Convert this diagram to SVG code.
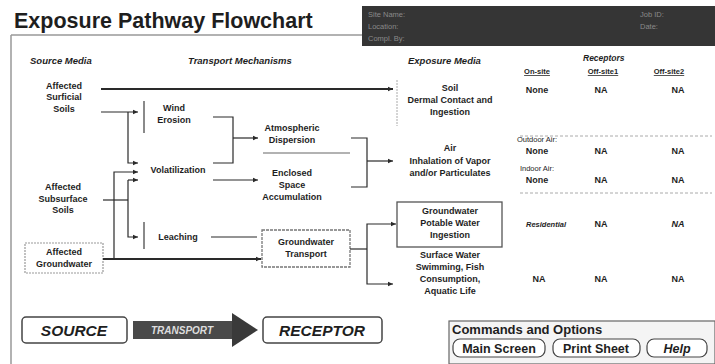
<svg xmlns="http://www.w3.org/2000/svg" width="715" height="364" viewBox="0 0 715 364">
<style>
text{font-family:"Liberation Sans",Arial,sans-serif;font-weight:bold;fill:#1e1e1e}
.t{font-size:9px;text-anchor:middle}
.h{font-size:9.5px;font-style:italic}
.s{font-size:7.5px;text-anchor:middle;text-decoration:underline}
.v{font-size:9px;text-anchor:middle}
.c{fill:none;stroke:#2a2a2a;stroke-width:1.2}
.bar{fill:none;stroke:#8a8a8a;stroke-width:2}
.sep{fill:none;stroke:#aaa;stroke-width:1;stroke-dasharray:3 2}
.box{fill:#fff;stroke:#555;stroke-width:1.3}
.dim{font-size:7.5px;font-weight:normal;fill:#8a8a8a}
.btn{fill:#fff;stroke:#444;stroke-width:1.2}
.bt{font-size:12.5px;text-anchor:middle}
</style>
<defs>
<marker id="a" markerWidth="6" markerHeight="6" refX="5" refY="3" orient="auto" markerUnits="userSpaceOnUse">
<path d="M0,0.8 L5,3 L0,5.2 z" fill="#2a2a2a"/>
</marker>
</defs>
<rect width="715" height="364" fill="#fff"/>

<g id="title">
<text x="14" y="28" style="font-size:21.5px">Exposure Pathway Flowchart</text>
</g>
<g id="frame">
<path d="M11,35 H362 M11,35 V364" fill="none" stroke="#999" stroke-width="1.5"/>
</g>
<g id="infobox">
<rect x="362" y="6" width="353" height="40" fill="#353535"/>
<text class="dim" x="368" y="17">Site Name:</text>
<text class="dim" x="368" y="29">Location:</text>
<text class="dim" x="368" y="41">Compl. By:</text>
<text class="dim" x="640" y="17">Job ID:</text>
<text class="dim" x="640" y="29">Date:</text>
</g>

<g id="headers">
<text class="h" x="30" y="64">Source Media</text>
<text class="h" x="188" y="64">Transport Mechanisms</text>
<text class="h" x="408" y="64">Exposure Media</text>
<text class="h" x="583" y="61" style="font-size:8.5px">Receptors</text>
<text class="s" x="537" y="74">On-site</text>
<text class="s" x="603" y="74">Off-site1</text>
<text class="s" x="669" y="74">Off-site2</text>
</g>

<g id="surficial-soils">
<text class="t" x="64" y="89">Affected</text>
<text class="t" x="64" y="100">Surficial</text>
<text class="t" x="64" y="112">Soils</text>
</g>
<g id="subsurface-soils">
<text class="t" x="63" y="190">Affected</text>
<text class="t" x="63" y="202">Subsurface</text>
<text class="t" x="63" y="213">Soils</text>
</g>
<g id="affected-groundwater">
<rect x="25" y="243" width="78" height="30" fill="#fff" stroke="#999" stroke-width="1.2" stroke-dasharray="2 1"/>
<text class="t" x="64" y="255">Affected</text>
<text class="t" x="64" y="267">Groundwater</text>
</g>

<g id="wind-erosion">
<path class="bar" d="M144,101 V133"/>
<text class="t" x="174" y="111">Wind</text>
<text class="t" x="174" y="123">Erosion</text>
</g>
<g id="volatilization">
<text class="t" x="178" y="173">Volatilization</text>
</g>
<g id="leaching">
<path class="bar" d="M144,222 V249"/>
<text class="t" x="178" y="240">Leaching</text>
</g>
<g id="atmospheric-dispersion">
<text class="t" x="292" y="131">Atmospheric</text>
<text class="t" x="292" y="143">Dispersion</text>
<path d="M263,153 H350" stroke="#999" stroke-width="1.5"/>
</g>
<g id="enclosed-space">
<text class="t" x="292" y="176">Enclosed</text>
<text class="t" x="292" y="188">Space</text>
<text class="t" x="292" y="200">Accumulation</text>
</g>
<g id="groundwater-transport">
<rect class="box" x="262" y="230" width="88" height="37" style="stroke:#777;stroke-dasharray:3 1"/>
<text class="t" x="306" y="245">Groundwater</text>
<text class="t" x="306" y="257">Transport</text>
</g>

<g id="soil">
<path d="M397,80 V126" stroke="#aaa" stroke-width="1" stroke-dasharray="2 1"/>
<text class="t" x="450" y="91">Soil</text>
<text class="t" x="450" y="103">Dermal Contact and</text>
<text class="t" x="450" y="115">Ingestion</text>
<text class="v" x="537" y="93">None</text>
<text class="v" x="601" y="93">NA</text>
<text class="v" x="678" y="93">NA</text>
</g>
<path class="sep" d="M520,136 H712"/>
<g id="air">
<text class="t" x="450" y="151">Air</text>
<text class="t" x="450" y="164">Inhalation of Vapor</text>
<text class="t" x="450" y="176">and/or Particulates</text>
<text class="v" x="537" y="142" style="font-size:7.5px;font-weight:normal">Outdoor Air:</text>
<text class="v" x="537" y="154">None</text>
<text class="v" x="601" y="154">NA</text>
<text class="v" x="678" y="154">NA</text>
<text class="v" x="537" y="171" style="font-size:7.5px;font-weight:normal">Indoor Air:</text>
<text class="v" x="537" y="183">None</text>
<text class="v" x="601" y="183">NA</text>
<text class="v" x="678" y="183">NA</text>
</g>
<path class="sep" d="M520,193 H712"/>
<g id="groundwater-ingestion">
<rect class="box" x="397" y="202" width="105" height="45"/>
<text class="t" x="450" y="214">Groundwater</text>
<text class="t" x="450" y="226">Potable Water</text>
<text class="t" x="450" y="238">Ingestion</text>
<text class="v" x="546" y="227" style="font-size:7.5px;font-style:italic">Residential</text>
<text class="v" x="601" y="227">NA</text>
<text class="v" x="678" y="227" style="font-style:italic">NA</text>
</g>
<g id="surface-water">
<text class="t" x="450" y="258">Surface Water</text>
<text class="t" x="450" y="270">Swimming, Fish</text>
<text class="t" x="450" y="282">Consumption,</text>
<text class="t" x="450" y="294">Aquatic Life</text>
<text class="v" x="539" y="282">NA</text>
<text class="v" x="601" y="282">NA</text>
<text class="v" x="678" y="282">NA</text>
</g>

<g id="connectors">
<path class="c" d="M101,89 H393" style="stroke-width:2" marker-end="url(#a)"/>
<path class="c" d="M101,112 H138" marker-end="url(#a)"/>
<path class="c" d="M128,112 V163 H138" marker-end="url(#a)"/>
<path class="c" d="M103,200 H128"/>
<path class="c" d="M128,180 H138" marker-end="url(#a)"/>
<path class="c" d="M128,180 V237 H138" marker-end="url(#a)"/>
<path class="c" d="M114,259 V172 H138" marker-end="url(#a)"/>
<path class="c" d="M103,259 H261" style="stroke-width:2" marker-end="url(#a)"/>
<path class="c" d="M211,237 H257"/>
<path class="c" d="M213,117 H233 V163 H213"/>
<path class="c" d="M233,138 H258" marker-end="url(#a)"/>
<path class="c" d="M213,180 H258" marker-end="url(#a)"/>
<path class="c" d="M351,138 H367 V187 H351"/>
<path class="c" d="M367,161 H393" marker-end="url(#a)"/>
<path class="c" d="M350,249 H367"/>
<path class="c" d="M367,249 V224 H396" marker-end="url(#a)"/>
<path class="c" d="M367,249 V284 H393" marker-end="url(#a)"/>
</g>

<g id="source">
<rect class="btn" x="22" y="317" width="105" height="26" rx="4" style="stroke-width:1.5"/>
<text x="74" y="336" style="font-size:15.5px;font-style:italic;text-anchor:middle">SOURCE</text>
</g>
<g id="transport">
<rect x="133" y="321" width="100" height="18" fill="#4a4a4a"/>
<path d="M232,313 L258,330 L232,347 z" fill="#3a3a3a"/>
<text x="182" y="334" style="font-size:10px;font-style:italic;text-anchor:middle;fill:#ddd">TRANSPORT</text>
</g>
<g id="receptor">
<rect class="btn" x="263" y="317" width="119" height="26" rx="4" style="stroke-width:1.5"/>
<text x="322" y="336" style="font-size:15.5px;font-style:italic;text-anchor:middle">RECEPTOR</text>
</g>

<g id="commands">
<rect x="449" y="321" width="266" height="43" fill="#f4f4f4" stroke="#666" stroke-width="1.2"/>
<text x="452" y="334" style="font-size:13px">Commands and Options</text>
<rect class="btn" x="453" y="339" width="92" height="18" rx="7"/>
<text class="bt" x="499" y="353">Main Screen</text>
<rect class="btn" x="553" y="339" width="87" height="18" rx="7"/>
<text class="bt" x="596" y="353">Print Sheet</text>
<rect class="btn" x="647" y="339" width="60" height="18" rx="7"/>
<text class="bt" x="677" y="353" style="font-style:italic">Help</text>
</g>
</svg>
